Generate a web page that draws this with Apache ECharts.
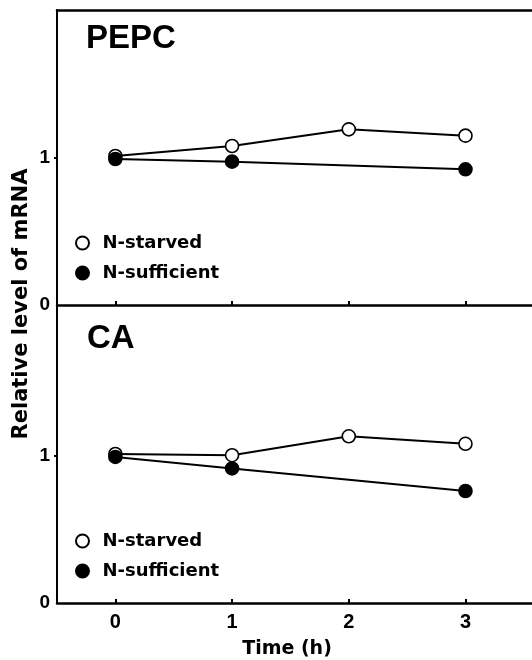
<!DOCTYPE html>
<html>
<head>
<meta charset="utf-8">
<script src="https://cdn.jsdelivr.net/npm/echarts@6/dist/echarts.min.js"></script>
<style>html,body{margin:0;padding:0;background:#fff;}#c{width:532px;height:660px;}</style>
</head>
<body>
<div id="c"></div>
<script>
// ---- data ----
var timeHours = [0, 1, 2, 3];
var xTickLabels = ['0', '1', '2', '3'];
var yTickValues = [0, 1];
var pepcStarved = [1.01, 1.078, 1.191, 1.148];
var pepcSufficient = [0.99, 0.972, null, 0.920];
var caStarved = [1.01, 1.002, 1.13, 1.079];
var caSufficient = [0.99, 0.912, null, 0.759];
var seriesNames = ['N-starved', 'N-sufficient'];
var panelTitles = ['PEPC', 'CA'];
var yTitle = 'Relative level of mRNA';
var xTitle = 'Time (h)';

function pairs(vals) {
  var out = [];
  for (var i = 0; i < timeHours.length; i++) {
    if (vals[i] !== null) out.push([timeHours[i], vals[i]]);
  }
  return out;
}

var chart = echarts.init(document.getElementById('c'), null, {renderer: 'canvas'});
var numFont = 'Liberation Sans';
var txtFont = 'DejaVu Sans';

function xAxisBottom(grid, showLabels) {
  return {
    gridIndex: grid, type: 'value', min: -0.5, max: 3.57, position: 'bottom',
    axisLine: {onZero: false, lineStyle: {color: '#000', width: 2.5}},
    axisTick: {inside: true, length: 4, customValues: timeHours, lineStyle: {color: '#000', width: 2}},
    axisLabel: showLabels ? {
      customValues: timeHours,
      formatter: function (v) { return xTickLabels[timeHours.indexOf(v)]; },
      color: '#000', fontFamily: numFont, fontWeight: 'bold', fontSize: 20, margin: 9
    } : {show: false},
    splitLine: {show: false},
    name: showLabels ? xTitle : '',
    nameLocation: 'middle', nameGap: 37,
    nameTextStyle: {color: '#000', fontFamily: txtFont, fontWeight: 'bold', fontSize: 19, padding: [0, 15, 0, 0]}
  };
}
function yAxisLeft(grid, max) {
  return {
    gridIndex: grid, type: 'value', min: 0, max: max,
    axisLine: {show: true, onZero: false, lineStyle: {color: '#000', width: 2}},
    axisTick: {show: true, inside: false, length: 3, customValues: [1], lineStyle: {color: '#000', width: 2}},
    axisLabel: {customValues: yTickValues, color: '#000', fontFamily: numFont, fontWeight: 'bold', fontSize: 19, margin: 7},
    splitLine: {show: false}
  };
}
function lineSeries(name, xi, yi, vals, filled, z) {
  return {
    name: name, type: 'line', xAxisIndex: xi, yAxisIndex: yi,
    data: pairs(vals), symbol: 'circle', symbolSize: 13, z: z,
    lineStyle: {color: '#000', width: 2},
    itemStyle: {color: filled ? '#000' : '#fff', borderColor: '#000', borderWidth: 1.6},
    emphasis: {disabled: true}, animation: false
  };
}
function legendFor(top) {
  return {
    data: seriesNames, orient: 'vertical', left: 75, top: top, padding: 0,
    icon: 'circle', itemWidth: 30, itemHeight: 13, itemGap: 12,
    selectedMode: false,
    textStyle: {color: '#000', fontFamily: txtFont, fontWeight: 'bold', fontSize: 18}
  };
}

chart.setOption({
  animation: false,
  backgroundColor: '#fff',
  grid: [
    {left: 57, right: 0, top: 10, height: 295},
    {left: 57, right: 0, top: 305, height: 299}
  ],
  xAxis: [
    xAxisBottom(0, false),
    {gridIndex: 0, type: 'value', min: -0.5, max: 3.57, position: 'top',
     axisLine: {onZero: false, lineStyle: {color: '#000', width: 2.5}},
     axisTick: {show: false}, axisLabel: {show: false}, splitLine: {show: false}},
    xAxisBottom(1, true)
  ],
  yAxis: [yAxisLeft(0, 2), yAxisLeft(1, 2.02)],
  legend: [legendFor(234), legendFor(532)],
  series: [
    lineSeries(seriesNames[0], 0, 0, pepcStarved, false, 2),
    lineSeries(seriesNames[1], 0, 0, pepcSufficient, true, 3),
    lineSeries(seriesNames[0], 2, 1, caStarved, false, 2),
    lineSeries(seriesNames[1], 2, 1, caSufficient, true, 3)
  ],
  graphic: [
    {type: 'text', x: 86, y: 38.5, style: {text: panelTitles[0], font: 'bold 33px "Liberation Sans"', fill: '#000', verticalAlign: 'middle'}},
    {type: 'text', x: 87, y: 339, style: {text: panelTitles[1], font: 'bold 33px "Liberation Sans"', fill: '#000', verticalAlign: 'middle'}},
    {type: 'text', x: 22, y: 304, rotation: Math.PI / 2, style: {text: yTitle, font: 'bold 21px "DejaVu Sans"', fill: '#000', align: 'center', verticalAlign: 'middle'}}
  ]
});
</script>
</body>
</html>
